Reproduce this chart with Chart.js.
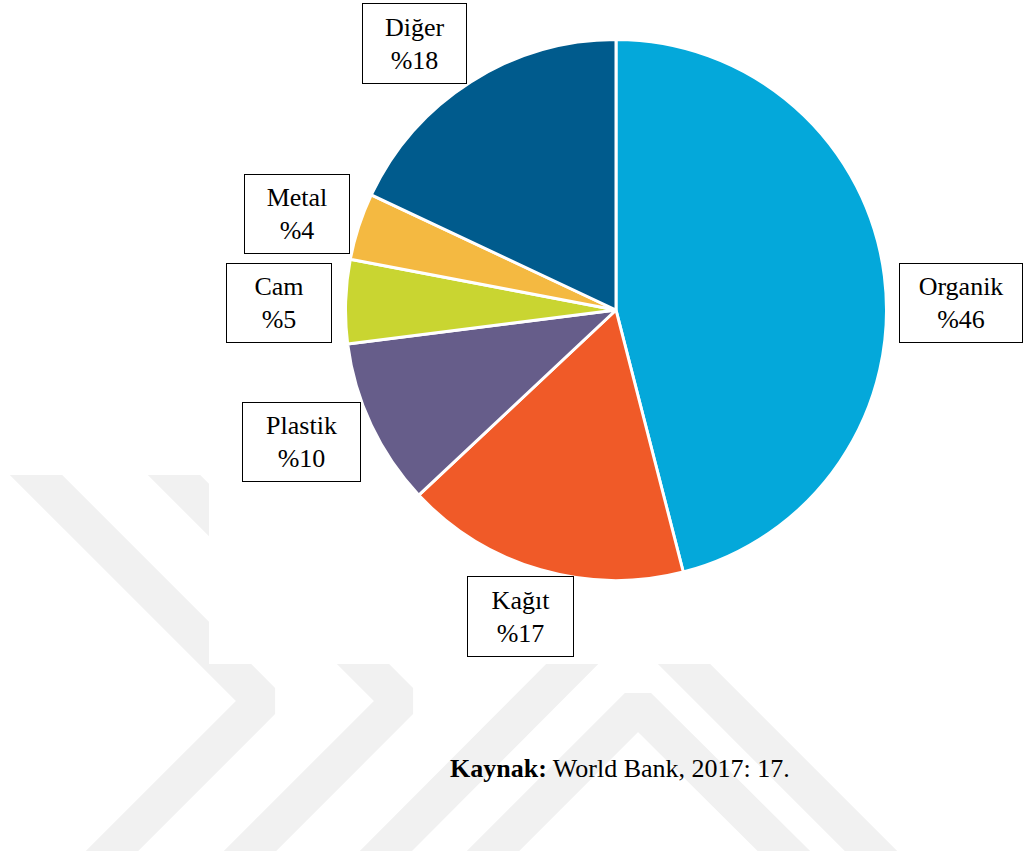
<!DOCTYPE html>
<html>
<head>
<meta charset="utf-8">
<script src="https://cdn.jsdelivr.net/npm/chart.js@4.4.1/dist/chart.umd.min.js"></script>
<style>
  body { margin: 0; background: #fff; width: 1025px; height: 851px; position: relative; overflow: hidden; }
  #wm { position: absolute; left: 0; top: 0; }
  #pieBox { position: absolute; left: 344px; top: 38px; width: 544px; height: 544px; }
  .lbl {
    position: absolute; box-sizing: border-box; border: 1.5px solid #000; background: #fff;
    font-family: "Liberation Serif", "Times New Roman", serif; font-size: 26px; line-height: 33px;
    color: #000; text-align: center; display: flex; flex-direction: column; justify-content: center;
  }
  #src { position: absolute; left: 450px; top: 754px; font-family: "Liberation Serif", serif; font-size: 26px; color: #000; }
</style>
</head>
<body>

<!-- faint watermark stripes behind the figure -->
<svg id="wm" width="1025" height="851">
  <defs><clipPath id="cl"><rect x="0" y="475" width="1025" height="400"/></clipPath></defs>
  <g clip-path="url(#cl)" fill="none" stroke="#f1f1f1" stroke-width="37" stroke-linejoin="bevel">
    <polyline points="-20,419 262,701 90,873"/>
    <polyline points="120,421 400,701 230,871"/>
    <polyline points="360,877 628,608 900,880"/>
    <polyline points="470,874 638,706 810,877"/>
  </g>
  <rect x="209" y="0" width="816" height="664" fill="#fff"/>
</svg>

<div id="pieBox"><canvas id="pie"></canvas></div>
<div id="src"><b>Kaynak:</b> World Bank, 2017: 17.</div>

<script>
// waste composition (World Bank 2017)
let categories = ["Organik", "Kağıt", "Plastik", "Cam", "Metal", "Diğer"];
let shares = [46, 17, 10, 5, 4, 18];
let sliceColors = ["#04a8da", "#f05a28", "#665d8a", "#c9d531", "#f4b941", "#005b8d"];

// label boxes: left, top, width, height
let boxPos = [
  [899, 263, 124, 80],
  [467, 576, 107, 81],
  [242, 402, 119, 80],
  [226, 263, 106, 80],
  [244, 174, 106, 80],
  [362, 3, 105, 81]
];

new Chart("pie", {
  type: "pie",
  data: {
    labels: categories,
    datasets: [{
      data: shares,
      backgroundColor: sliceColors,
      borderColor: "#ffffff",
      borderWidth: 3
    }]
  },
  options: {
    responsive: true,
    maintainAspectRatio: false,
    animation: false,
    plugins: {
      legend: {display: false},
      tooltip: {enabled: false}
    }
  }
});

for (let i = 0; i < categories.length; i++) {
  let p = boxPos[i];
  let d = document.createElement("div");
  d.className = "lbl";
  d.style.left = p[0] + "px";
  d.style.top = p[1] + "px";
  d.style.width = p[2] + "px";
  d.style.height = p[3] + "px";
  d.innerHTML = "<div>" + categories[i] + "</div><div>%" + shares[i] + "</div>";
  document.body.appendChild(d);
}
</script>
</body>
</html>
